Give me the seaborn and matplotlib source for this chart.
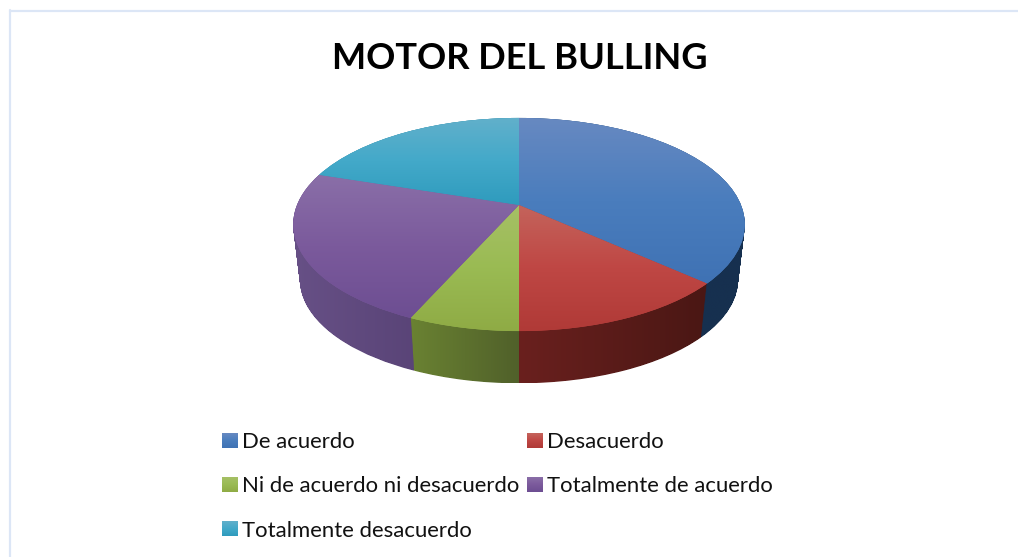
import numpy as np
import matplotlib
matplotlib.use("Agg")
import matplotlib.pyplot as plt
import seaborn as sns
from matplotlib.colors import LinearSegmentedColormap
from matplotlib.path import Path
from matplotlib.transforms import Transform

labels = ["De acuerdo", "Desacuerdo", "Ni de acuerdo ni desacuerdo",
          "Totalmente de acuerdo", "Totalmente desacuerdo"]
values = [11, 4, 2, 7, 6]

face_light = ["#6789c1", "#c4645c", "#a6c066", "#8a6fa8", "#62b0cb"]
face_mid = ["#4a7dbd", "#bf4744", "#9abb53", "#7b5a9c", "#43a9c9"]
face_dark = ["#3f72b4", "#b03a37", "#8fab45", "#6d4e92", "#2f9bbd"]
side_left = ["#18304f", "#6a201e", "#6a8232", "#675086", "#1f6f86"]
side_right = ["#16304f", "#4a1714", "#50602a", "#4e3a6b", "#1f6f86"]

sns.set_theme(style="white")
plt.rcParams["font.family"] = ["Lato", "DejaVu Sans"]


class TiltedPie(Transform):
    # unit circle to pixel positions, frac 0 is the top face, 1 the bottom rim
    input_dims = 2
    output_dims = 2

    def __init__(self, frac=0.0):
        super().__init__()
        self.scale = 1 - 0.03 * frac
        self.shift = 56 * frac

    def transform_non_affine(self, values):
        x, y = np.asarray(values).T
        w = 1 + 0.183 * y
        px = 519 + self.scale * 222 * x / w
        py = 205 - self.scale * 103 * y / w + self.shift
        return np.column_stack((px, py))


def gradient(ax, stops, box, horizontal=False, zorder=2):
    cmap = LinearSegmentedColormap.from_list("g", stops)
    ramp = np.linspace(0, 1, 256)
    ramp = ramp[None, :] if horizontal else ramp[:, None]
    return ax.imshow(ramp, cmap=cmap, aspect="auto", interpolation="bilinear",
                     extent=(box.xmin, box.xmax, box.ymax, box.ymin), zorder=zorder)


fig = plt.figure(figsize=(10.18, 5.57), dpi=100, facecolor="white")
ax = fig.add_axes([0, 0, 1, 1])

wedges, _ = ax.pie(values, labels=None, startangle=90, counterclock=False,
                   colors=sns.color_palette(face_mid), wedgeprops={"linewidth": 0})

top = TiltedPie(0)
for i, wedge in enumerate(wedges):
    wedge.set_transform(top + ax.transData)
    wedge.set_zorder(3)

    face = top.transform_path(wedge.get_path())
    im = gradient(ax, [face_light[i], face_mid[i], face_dark[i]], face.get_extents(), zorder=4)
    im.set_clip_path(face, ax.transData)

# rim of each slice, swept down from the top face; front slices go on last
for z, i in enumerate([4, 0, 3, 1, 2]):
    outline = wedges[i].get_path()
    layers = [TiltedPie(f).transform_path(outline) for f in np.linspace(0, 1, 60)]
    rim = Path.make_compound_path(*layers)
    im = gradient(ax, [side_left[i], side_right[i]], rim.get_extents(), horizontal=True,
                  zorder=2 + z * 0.1)
    im.set_clip_path(rim, ax.transData)

ax.axhline(10.5, xmin=10 / 1018, color="#dce6f6", lw=1.6)
ax.axvline(10.5, ymax=1 - 10 / 557, color="#dce6f6", lw=1.6)

ax.text(519.5, 58.5, "MOTOR DEL BULLING", fontsize=26.1, fontweight="bold", color="#000000",
        ha="center", va="center")

# legend fills by column, so reorder to read across the rows
order = [0, 2, 4, 1, 3]
leg = ax.legend([wedges[i] for i in order], [labels[i] for i in order], ncol=2,
                loc="upper left", bbox_to_anchor=(222, 432), bbox_transform=ax.transData,
                frameon=False, fontsize=15.9, borderpad=0, borderaxespad=0,
                labelcolor="#111111", handlelength=0.68, handleheight=0.64,
                handletextpad=0.23, labelspacing=1.1, columnspacing=0.32)

ax.set_xlim(0, 1018)
ax.set_ylim(557, 0)
ax.set_aspect("auto")
ax.axis("off")

fig.canvas.draw()
for handle, i in zip(leg.legend_handles, order):
    box = handle.get_window_extent().transformed(ax.transData.inverted())
    gradient(ax, [face_light[i], face_mid[i], face_dark[i]], box, zorder=6)
ax.set_xlim(0, 1018)
ax.set_ylim(557, 0)
ax.set_aspect("auto")

fig.savefig("out.png", dpi=100)
